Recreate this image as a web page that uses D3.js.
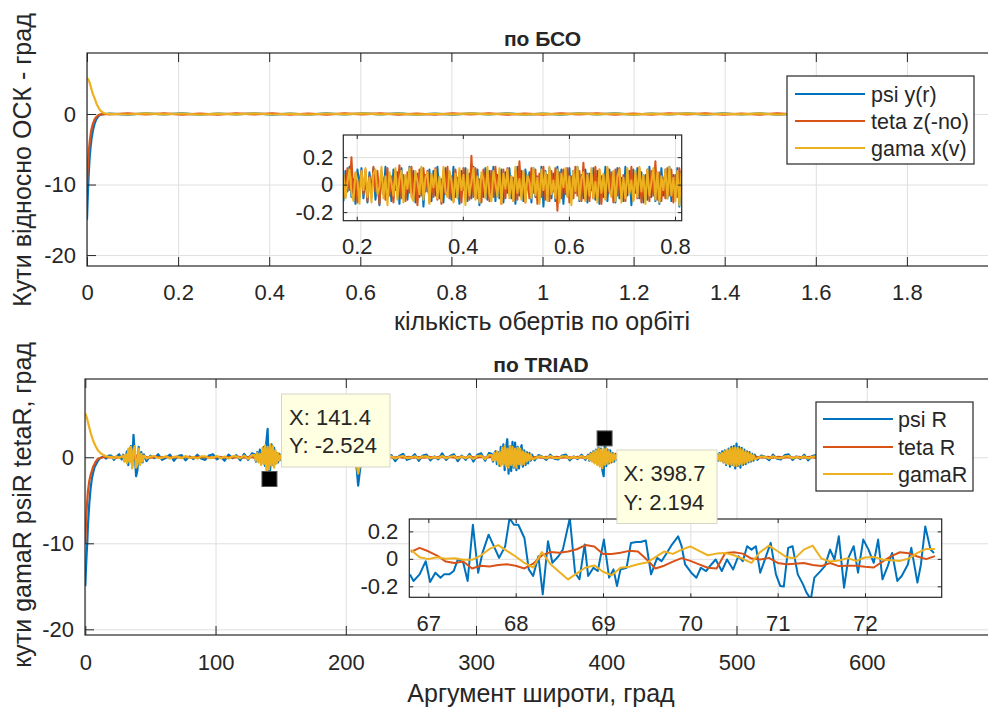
<!DOCTYPE html>
<html><head><meta charset="utf-8">
<script src="https://cdn.jsdelivr.net/npm/d3@7"></script>
<style>body{margin:0;background:#fff}svg{display:block}</style>
</head><body><script>
// ---------------- DATA ----------------
const SERIES_TOP = ["psi y(r)", "teta z(-no)", "gama x(v)"];
const SERIES_BOT = ["psi R", "teta R", "gamaR"];
const COLORS = ["#0072BD", "#D95319", "#EDB120"];

// top main: transient [orbits, deg]
const TOP_PSI_START = [[0,-15],[0.0015,-12],[0.003,-9.6],[0.0045,-7.6],[0.006,-6.1],[0.008,-4.6],[0.01,-3.5],[0.013,-2.3],[0.0165,-1.4],[0.02,-0.8],[0.024,-0.4],[0.028,-0.15],[0.033,-0.05],[0.04,0]];
const TOP_TETA_START = [[0,-10],[0.0015,-7.8],[0.003,-6.2],[0.0045,-4.9],[0.006,-3.9],[0.008,-2.9],[0.01,-2.1],[0.013,-1.4],[0.0165,-0.8],[0.02,-0.45],[0.024,-0.2],[0.028,-0.08],[0.035,0]];
const TOP_GAMA_START = [[0,5.1],[0.003,4.9],[0.006,4.4],[0.009,3.7],[0.012,3.0],[0.015,2.5],[0.018,2.0],[0.022,1.3],[0.026,0.8],[0.03,0.45],[0.035,0.2],[0.04,0.07],[0.047,0.02]];
const TOP_TAIL_RANGE = [0.05, 1.833];
const TOP_TAIL_PSI = [0.06,-0.08,0.1,-0.06,0.09,-0.1,0.07,-0.05,0.1,-0.09,0.06,-0.1,0.08,-0.07,0.1,-0.06,0.09,-0.1,0.05,-0.08,0.1,-0.07,0.09,-0.1,0.06,-0.08,0.1,-0.05,0.09,-0.1,0.07,-0.06,0.1,-0.09,0.08,-0.07,0.1,-0.1,0.06,-0.08,0.09,-0.07,0.1,-0.06,0.08,-0.05];
const TOP_TAIL_TETA = [-0.05,0.09,-0.07,0.1,-0.08,0.06,-0.1,0.09,-0.06,0.08,-0.1,0.07,-0.09,0.1,-0.05,0.08,-0.1,0.06,-0.09,0.1,-0.07,0.08,-0.1,0.05,-0.09,0.1,-0.06,0.08,-0.1,0.07,-0.09,0.1,-0.05,0.08,-0.1,0.06,-0.09,0.1,-0.07,0.08,-0.1,0.05,-0.09,0.1,-0.06,0.04];
const TOP_TAIL_GAMA = [0.04,-0.07,0.08,-0.05,0.07,-0.08,0.06,-0.04,0.08,-0.07,0.05,-0.08,0.07,-0.06,0.08,-0.05,0.07,-0.08,0.04,-0.06,0.08,-0.05,0.07,-0.08,0.05,-0.07,0.08,-0.04,0.07,-0.08,0.06,-0.05,0.08,-0.07,0.06,-0.05,0.08,-0.08,0.05,-0.06,0.07,-0.05,0.08,-0.04,0.06,-0.03];

// top inset noise (orbits 0.175 .. 0.812)
const INSET1_RANGE = [0.175, 0.812];
const INSET1_PSI = [-0.12,0.1,-0.05,0.13,-0.09,0.04,-0.14,0.11,-0.02,0.12,-0.1,0.07,-0.13,0.09,-0.06,0.12,-0.11,0.03,-0.15,0.1,
-0.07,0.13,-0.1,0.05,-0.12,0.11,-0.04,0.09,-0.14,0.12,-0.08,0.06,-0.11,0.13,-0.03,0.1,-0.13,0.08,-0.09,0.12,
-0.16,0.07,-0.05,0.11,-0.12,0.1,-0.08,0.13,-0.1,0.04,-0.13,0.12,-0.06,0.09,-0.11,0.13,-0.09,0.05,-0.14,0.1,
-0.04,0.12,-0.12,0.08,-0.1,0.13,-0.07,0.11,-0.15,0.06,-0.09,0.12,-0.11,0.1,-0.05,0.13,-0.12,0.07,-0.1,0.11,
-0.13,0.09,-0.06,0.12,-0.1,0.05,-0.14,0.13,-0.08,0.1,-0.12,0.11,-0.03,0.09,-0.13,0.12,-0.09,0.06,-0.11,0.13,
-0.16,0.1,-0.07,0.12,-0.1,0.08,-0.12,0.13,-0.05,0.11,-0.14,0.09,-0.08,0.12,-0.11,0.1,-0.06,0.13,-0.12,0.07,
-0.1,0.11,-0.13,0.08,-0.04,0.12,-0.11,0.1,-0.14,0.06,-0.09,0.13,-0.12,0.11,-0.07,0.09,-0.13,0.12,-0.1,0.05,
-0.12,0.13,-0.08,0.1,-0.15,0.11,-0.06,0.12,-0.1,0.09,-0.13,0.07,-0.11,0.13,-0.09,0.1,-0.12,0.06,-0.14,0.12,
-0.08,0.11,-0.1,0.13,-0.12,0.07,-0.09,0.12,-0.16,0.1];
const INSET1_TETA = [0.05,-0.09,0.12,-0.04,0.2,-0.1,0.08,-0.13,0.02,0.1,-0.07,0.11,-0.12,0.06,-0.09,0.13,-0.05,0.1,-0.14,0.08,
0.03,-0.11,0.12,-0.08,0.06,-0.13,0.1,-0.03,0.14,-0.1,0.07,-0.12,0.09,-0.06,0.13,-0.1,0.04,-0.15,0.11,-0.08,
0.12,-0.05,0.1,-0.13,0.07,-0.09,0.12,-0.11,0.03,-0.14,0.1,-0.07,0.13,-0.1,0.06,-0.12,0.11,-0.04,0.09,-0.13,
0.12,-0.08,0.05,-0.11,0.21,-0.09,0.12,-0.1,0.04,-0.13,0.11,-0.06,0.08,-0.12,0.1,-0.09,0.13,-0.05,0.07,-0.14,
0.11,-0.1,0.12,-0.07,0.06,-0.12,0.1,-0.11,0.17,-0.08,0.09,-0.13,0.05,-0.1,0.12,-0.06,0.11,-0.14,0.08,-0.09,
0.13,-0.11,0.07,-0.12,0.1,-0.05,0.12,-0.19,0.09,-0.1,0.11,-0.07,0.12,-0.13,0.06,-0.1,0.13,-0.08,0.1,-0.12,
0.16,-0.11,0.08,-0.12,0.05,-0.1,0.13,-0.09,0.11,-0.14,0.07,-0.1,0.12,-0.06,0.09,-0.13,0.11,-0.08,0.12,-0.1,
0.07,-0.12,0.1,-0.05,0.13,-0.11,0.08,-0.1,0.12,-0.13,0.06,-0.09,0.11,-0.12,0.1,-0.08,0.17,-0.11,0.09,-0.12,
0.05,-0.1,0.12,-0.08,0.11,-0.13,0.07,-0.09,0.12,-0.06];
const INSET1_GAMA = [0.08,-0.1,0.02,0.11,-0.06,-0.12,0.09,0.03,-0.14,0.1,-0.04,0.12,-0.09,0.05,-0.13,0.08,0.11,-0.07,-0.02,0.13,
-0.1,0.06,-0.15,0.09,0.01,-0.08,0.12,-0.11,0.04,0.1,-0.13,0.07,-0.03,0.12,-0.09,-0.12,0.1,0.02,-0.07,0.13,
-0.11,0.05,0.09,-0.14,0.08,-0.02,0.11,-0.1,0.06,-0.12,0.13,-0.05,-0.09,0.1,0.03,-0.13,0.08,-0.1,0.12,-0.04,
0.07,-0.15,0.11,-0.08,0.02,0.12,-0.11,0.06,-0.13,0.09,0.04,-0.1,0.13,-0.07,-0.12,0.1,0.01,-0.09,0.12,-0.14,
0.08,-0.03,0.11,-0.1,0.06,-0.12,0.13,-0.06,0.04,-0.11,0.1,-0.13,0.07,0.02,-0.1,0.12,-0.08,0.05,-0.14,0.11,
-0.04,0.09,-0.12,0.13,-0.07,0.03,-0.1,0.11,-0.13,0.08,-0.02,0.12,-0.09,0.06,-0.15,0.1,-0.05,0.13,-0.11,0.04,
0.09,-0.12,0.07,-0.08,0.12,-0.1,0.02,-0.13,0.11,-0.06,0.08,-0.11,0.13,-0.04,-0.09,0.1,-0.12,0.06,0.11,-0.13,
0.05,-0.1,0.12,-0.07,0.03,-0.12,0.1,-0.09,0.13,-0.05,0.07,-0.14,0.11,-0.08,0.02,0.12,-0.11,0.09,-0.13,0.06,
-0.04,0.11,-0.1,0.13,-0.08,0.05,-0.12,0.1,-0.15,0.09];

// bottom main: transient [deg, deg]
const BOT_PSI_START = [[0,-15],[0.5,-13],[1,-11.3],[1.5,-10],[2,-8],[3,-5.5],[4,-3.7],[5,-2.5],[6,-1.8],[7,-1.2],[8,-0.9],[9,-0.6],[10,-0.35],[11,-0.15],[12,-0.05],[14,0.1],[16,-0.15],[18,0.2]];
const BOT_TETA_START = [[0,-10],[0.5,-8],[1,-6.3],[1.5,-5],[2,-4],[3,-2.8],[4,-2.1],[5,-1.6],[6,-1.1],[7,-0.8],[8,-0.5],[9,-0.3],[10,-0.15],[12,-0.05],[15,0.03],[18,-0.02]];
const BOT_GAMA_START = [[0,5.1],[1,4.7],[2,4.1],[3,3.5],[4,2.9],[5,2.4],[6,1.95],[7,1.6],[8,1.25],[9,1],[10,0.75],[12,0.45],[14,0.25],[16,0.12],[19,0.03]];
// bottom main noise: sample segments (start deg, step deg)
const BOT_SEG_START = [20,29,47,130,152,204.5,217,312,345,386,412,485,516];
const BOT_SEG_STEP  = [2,1,3,1,3,1,3,1,3,1,3,1,3];
const BOT_TETA_SEG_START = [20,29.5,46,131.5,152,205.5,216,313.5,346,387.5,412,485.5,516];
const BOT_TETA_SEG_STEP  = [4,1.5,4,1.5,4,1.5,4,1.5,4,1.5,4,1.5,4];
const BOT_PSI_SEGS = [
 [0.2,-0.3,0.1,0.35,-0.25],
 [0.3,-0.45,0.2,0.7,-0.9,0.5,1.3,-1.1,2.6,0.4,-2.2,-1.5,1.2,-0.8,0.6,-0.6,0.35],
 [-0.45,0.2,-0.1,0.35,-0.3,-0.05,0.3,-0.4,0.15,0.25,-0.35,0.1,-0.2,0.3,-0.15,-0.3,0.2,0.35,-0.25,0.05,-0.4,0.3,-0.1,0.25,-0.35,0.4,-0.3,0.45],
 [0.35,-0.5,0.6,-0.4,0.9,-0.7,0.5,1.2,-1.0,1.8,3.3,-2.5,-1.3,1.5,-0.9,1.1,-0.7,0.5,-0.6,0.4,-0.3],
 [-0.3,0.25,0.05,-0.35,0.3,-0.1,-0.25,0.2,0.35,-0.3,0.1,-0.2,0.3,-0.35,0.15,0.25,-0.3,0.2],
 [0.2,-0.3,0.4,-0.6,-1.5,-3.3,-2.0,-0.8,0.3,-0.4,0.25],
 [-0.35,0.3,0.05,-0.4,0.35,-0.2,0.25,-0.45,0.15,0.4,-0.3,-0.1,0.35,-0.4,0.2,0.3,-0.35,0.1,-0.25,0.45,-0.3,0.15,0.35,-0.45,0.2,-0.3,0.4,-0.5,0.3,0.45,-0.4,0.5],
 [0.4,-0.5,0.3,0.7,-0.8,0.6,-1.0,1.2,-0.7,1.5,-1.5,1.0,2.1,-1.9,1.3,-1.6,1.8,-1.2,1.7,-1.5,1.2,-1.3,0.9,1.4,-1.1,0.8,-0.9,0.6,-0.7,0.5,-0.4,0.3],
 [-0.35,0.25,0.05,-0.3,0.3,-0.15,-0.25,0.2,0.3,-0.35,0.1,-0.2,0.3,-0.3],
 [0.3,-0.4,0.5,-0.3,0.7,-0.6,0.9,-0.8,1.1,-0.9,1.0,-1.5,-2.2,2.2,-1.0,0.9,-0.7,0.8,-0.6,0.5,-0.5,0.4,-0.3,0.3,-0.25],
 [-0.3,0.25,0.05,-0.35,0.3,-0.1,-0.25,0.2,0.3,-0.3,0.1,-0.2,0.35,-0.3,0.15,0.25,-0.35,0.1,-0.2,0.3,-0.3,0.35,-0.4,0.3,-0.45],
 [0.35,-0.4,0.5,-0.3,0.7,-0.6,0.8,-0.9,0.6,1.0,-1.1,1.2,-0.9,1.3,-1.3,1.6,-1.0,1.2,-1.2,1.1,-0.9,0.9,-0.8,0.7,-0.6,0.6,-0.5,0.4,-0.4,0.3],
 [-0.3,0.2,0.05,-0.35,0.3,-0.15,-0.25,0.25,0.35,-0.3,0.1,-0.2,0.3,-0.35,0.15,0.25,-0.3,0.05,-0.25,0.3,-0.3,0.2,0.35,-0.35,0.1,-0.2,0.3,-0.3,0.15,0.25,-0.35,0.05,-0.2,0.3,-0.25,0.2,0.3,-0.3,0.1,-0.25,0.3,-0.3,0.2,0.25,-0.35,0.1,-0.2,0.25,-0.1]
];
const BOT_TETA_SEGS = [
 [0.02,-0.03,0.04],
 [0.05,-0.1,0.15,-0.2,0.25,-0.3,0.3,-0.25,0.15,-0.1,0.05],
 [0.03,-0.05,0.04,-0.02,0.05,-0.04,0.02,-0.05,0.04,-0.03,0.05,-0.02,0.03,-0.05,0.04,-0.03,0.02,-0.04,0.05,-0.03,0.04,-0.05],
 [0.05,-0.08,0.1,-0.12,0.15,-0.2,0.2,-0.2,0.18,-0.15,0.1,-0.08,0.05],
 [0.04,-0.03,0.05,-0.04,0.02,-0.05,0.03,-0.02,0.04,-0.05,0.03,-0.04,0.02,-0.03],
 [0.02,-0.05,-0.15,-0.3,-0.1,0.03],
 [0.03,-0.04,0.05,-0.02,0.04,-0.05,0.03,-0.03,0.05,-0.04,0.02,-0.05,0.04,-0.03,0.05,-0.02,0.03,-0.04,0.05,-0.03,0.04,-0.05,0.03,-0.04,0.05],
 [0.05,-0.06,0.08,-0.1,0.12,-0.12,0.15,-0.15,0.18,-0.16,0.16,-0.15,0.13,-0.12,0.1,-0.08,0.07,-0.06,0.05,-0.04],
 [0.03,-0.04,0.05,-0.03,0.04,-0.05,0.02,-0.04,0.05,-0.03,0.04],
 [0.04,-0.05,0.07,-0.08,0.1,-0.1,0.12,-0.15,0.12,-0.1,0.08,-0.07,0.05,-0.04,0.03],
 [0.03,-0.04,0.05,-0.03,0.04,-0.05,0.02,-0.04,0.05,-0.03,0.04,-0.05,0.03,-0.04,0.05,-0.03,0.04,-0.05,0.03],
 [0.04,-0.05,0.06,-0.07,0.08,-0.1,0.1,-0.12,0.12,-0.12,0.14,-0.12,0.1,-0.1,0.08,-0.07,0.06,-0.05,0.04],
 [0.03,-0.04,0.05,-0.03,0.04,-0.05,0.02,-0.04,0.05,-0.03,0.04,-0.05,0.03,-0.04,0.05,-0.02,0.03,-0.04,0.05,-0.03,0.04,-0.05,0.03,-0.04,0.05,-0.03,0.04,-0.05,0.02,-0.04,0.05,-0.03,0.04,-0.05,0.03,-0.04,0.02]
];
const BOT_GAMA_SEGS = [
 [0.06,-0.12,0.1,-0.05,0.12],
 [0.2,-0.5,0.35,-0.7,1.0,-0.6,1.2,-1.3,0.9,1.3,-1.2,-0.8,1.0,-0.9,0.4,-0.5,0.2],
 [-0.15,0.08,0.15,-0.1,-0.05,0.12,-0.15,0.05,0.1,-0.12,0.15,-0.08,0.02,-0.15,0.1,0.12,-0.1,-0.05,0.15,-0.12,0.08,-0.15,0.1,0.12,-0.1,0.2,-0.2,0.25],
 [0.25,-0.4,0.5,-0.6,0.4,-0.9,1.1,-0.8,1.4,-1.5,1.2,-1.4,1.5,-1.0,1.3,-1.2,0.8,-0.7,0.5,-0.4,0.2],
 [-0.1,0.12,-0.05,-0.12,0.1,0.08,-0.12,0.05,0.12,-0.1,0.02,-0.12,0.1,-0.08,0.12,-0.05,-0.1,0.08],
 [0.1,-0.2,0.3,-0.5,-1.0,-1.9,-1.2,-0.3,0.2,-0.2,0.1],
 [-0.12,0.1,0.05,-0.15,0.12,-0.05,0.1,-0.15,0.05,0.15,-0.1,-0.05,0.12,-0.15,0.08,0.1,-0.12,0.05,-0.1,0.15,-0.12,0.06,0.15,-0.15,0.1,-0.12,0.18,-0.2,0.15,0.2,-0.22,0.25],
 [0.25,-0.35,0.5,-0.4,0.7,-0.8,0.6,-1.0,1.1,-0.9,1.3,-1.1,1.0,-1.2,1.3,-0.9,1.2,-1.1,1.0,-1.2,1.1,-0.8,1.0,-0.9,0.7,-0.8,0.6,-0.5,0.4,-0.4,0.3,-0.2],
 [-0.15,0.1,0.05,-0.12,0.15,-0.08,-0.1,0.1,0.12,-0.15,0.05,-0.1,0.15,-0.15],
 [0.2,-0.3,0.4,-0.5,0.6,-0.7,0.8,-0.9,1.0,-1.1,0.9,-1.25,1.0,-0.9,1.0,-0.8,0.7,-0.6,0.5,-0.5,0.4,-0.3,0.3,-0.2,0.15],
 [-0.12,0.1,0.05,-0.12,0.12,-0.05,-0.1,0.08,0.12,-0.12,0.05,-0.08,0.15,-0.12,0.06,0.1,-0.15,0.05,-0.1,0.15,-0.12,0.18,-0.2,0.2,-0.25],
 [0.25,-0.3,0.4,-0.45,0.5,-0.6,0.7,-0.75,0.9,-0.8,1.0,-0.9,1.1,-1.0,1.15,-1.0,1.1,-0.9,1.0,-0.85,0.9,-0.7,0.7,-0.6,0.55,-0.5,0.4,-0.35,0.3,-0.2],
 [-0.12,0.08,0.05,-0.14,0.12,-0.06,-0.1,0.1,0.14,-0.12,0.04,-0.08,0.12,-0.14,0.06,0.1,-0.12,0.02,-0.1,0.12,-0.12,0.08,0.14,-0.14,0.04,-0.08,0.12,-0.12,0.06,0.1,-0.14,0.02,-0.08,0.12,-0.1,0.08,0.12,-0.12,0.04,-0.1,0.12,-0.12,0.08,0.1,-0.14,0.04,-0.08,0.1,-0.04]
];

// bottom inset
const INSET2_PSI_X = [66.79,66.83,66.90,66.97,67.02,67.08,67.14,67.18,67.24,67.29,67.34,67.40,67.45,67.51,67.57,67.62,67.69,67.75,67.81,67.88,67.93,67.98,68.03,68.10,68.15,68.20,68.26,68.31,68.37,68.42,68.49,68.54,68.62,68.68,68.73,68.79,68.83,68.89,68.94,69.01,69.07,69.12,69.16,69.20,69.27,69.32,69.38,69.43,69.49,69.55,69.62,69.67,69.73,69.79,69.86,69.90,69.94,70.01,70.07,70.12,70.18,70.24,70.29,70.36,70.42,70.49,70.55,70.60,70.65,70.70,70.75,70.80,70.86,70.92,70.98,71.03,71.07,71.12,71.17,71.23,71.29,71.33,71.38,71.42,71.49,71.54,71.60,71.65,71.70,71.76,71.81,71.87,71.92,71.98,72.04,72.10,72.15,72.20,72.26,72.31,72.37,72.42,72.49,72.53,72.60,72.64,72.69,72.75,72.79];
const INSET2_PSI = [-0.113,-0.161,-0.113,-0.017,-0.169,-0.101,-0.137,-0.113,-0.113,-0.089,0,-0.029,-0.161,0.248,-0.101,0.043,0.176,0.092,0.007,0.092,0.296,0.248,0.248,0.152,-0.077,-0.125,0.019,-0.258,0.128,-0.029,0.019,0.067,0.296,-0.101,-0.149,0.104,-0.125,-0.065,-0.089,0.14,-0.137,-0.077,-0.198,-0.077,-0.065,0.116,0.123,0.123,0.133,-0.113,0.007,-0.017,0.043,0.104,0.164,0.092,-0.041,-0.101,-0.137,-0.065,-0.089,-0.041,-0.005,-0.089,-0.005,-0.077,0.019,-0.017,0.092,0.067,0.092,-0.101,0.007,0.116,-0.113,-0.198,-0.202,0.08,0.092,-0.113,-0.186,-0.246,-0.294,-0.137,-0.089,-0.053,0.067,-0.005,0.164,-0.21,0.007,0.092,-0.101,0.14,0.067,-0.029,0.14,-0.149,-0.053,0.043,-0.161,-0.125,-0.041,0.08,-0.173,-0.041,0.236,0.067,0.043];
const INSET2_GRID = [66.8, 72.8];
const INSET2_TETA = [0.05,0.08,0.055,0.024,-0.02,-0.03,-0.02,-0.07,-0.05,-0.055,-0.045,-0.04,-0.05,-0.07,-0.035,0.025,0.05,0.045,0.053,0.07,0.1,0.09,0.035,0.035,0.045,0.058,0.053,-0.005,-0.07,-0.05,-0.02,0.005,-0.015,-0.04,-0.065,-0.07,0.043,0.048,0.038,0.002,-0.005,0.007,-0.03,-0.04,-0.035,-0.03,-0.045,-0.053,-0.03,-0.053,-0.05,-0.05,-0.058,-0.063,-0.02,0.02,0.048,0.04,0.017,-0.002,0.02];
const INSET2_GAMA = [0.067,0.012,-0.002,0.012,0,0.005,-0.007,-0.007,0.024,0.072,0.1,0.058,0.017,-0.03,-0.063,0.05,-0.04,-0.096,-0.15,-0.106,-0.063,-0.048,-0.094,-0.12,-0.065,-0.058,-0.04,-0.027,0.012,0.053,0.036,0.067,0.09,0.058,0.026,0.038,0.043,0.026,0,-0.03,0.05,0.096,0.055,0.012,0.005,0.067,0.096,0.002,-0.02,-0.012,0.005,-0.015,0.01,0.014,-0.005,-0.01,-0.015,0.002,0.043,0.072,0.072];

// tick labels
const TOP_XTICKS = [0,0.2,0.4,0.6,0.8,1,1.2,1.4,1.6,1.8];
const MAIN_YTICKS = [-20,-10,0];
const BOT_XTICKS = [0,100,200,300,400,500,600];
const INSET1_XTICKS = [0.2,0.4,0.6,0.8];
const INSET_YTICKS = [-0.2,0,0.2];
const INSET2_XTICKS = [67,68,69,70,71,72];
const DATATIPS = [{x:141.4, y:-2.524}, {x:398.7, y:2.194}];

// ---------------- HELPERS ----------------
const FONT = '"Liberation Sans", Arial, Helvetica, sans-serif';
const INK = '#262626', GRID = '#dfdfdf';
const svg = d3.select('body').append('svg').attr('width', 988).attr('height', 709)
  .style('font-family', FONT);
svg.append('rect').attr('width', 988).attr('height', 709).attr('fill', '#fff');

function spread(vals, a, b) { return vals.map((v, i) => [a + i * (b - a) / (vals.length - 1), v]); }
function zip(xs, ys) { const n = Math.min(xs.length, ys.length); return d3.range(n).map(i => [xs[i], ys[i]]); }
function segs(start, segVals, starts, steps) {
  const pts = start.slice();
  segVals.forEach((vals, i) => vals.forEach((v, j) => pts.push([starts[i] + j * steps[i], v])));
  return pts;
}
let clipN = 0;
function fmt(d) { return String(d); }

function axes(o) {
  const x = d3.scaleLinear().domain(o.xd).range([o.l, o.r]);
  const y = d3.scaleLinear().domain(o.yd).range([o.b, o.t]);
  const W = o.r - o.l, H = o.b - o.t;
  const g = svg.append('g');
  if (o.bg) g.append('rect').attr('x', o.l).attr('y', o.t).attr('width', W).attr('height', H).attr('fill', '#fff');
  const gx = g.append('g').attr('transform', `translate(0,${o.b})`)
    .call(d3.axisBottom(x).tickValues(o.xt).tickSize(-H).tickFormat(''));
  const gy = g.append('g').attr('transform', `translate(${o.l},0)`)
    .call(d3.axisLeft(y).tickValues(o.yt).tickSize(-W).tickFormat(''));
  [gx, gy].forEach(a => { a.select('.domain').remove(); a.selectAll('line').attr('stroke', GRID).attr('stroke-width', 1); });
  const id = 'clip' + (clipN++);
  svg.append('clipPath').attr('id', id).append('rect').attr('x', o.l).attr('y', o.t).attr('width', W).attr('height', H);
  const lg = g.append('g').attr('clip-path', `url(#${id})`);
  const line = d3.line().x(d => x(d[0])).y(d => y(d[1]));
  o.series.forEach((s, i) => lg.append('path').datum(s).attr('d', line).attr('fill', 'none')
    .attr('stroke', COLORS[i]).attr('stroke-width', o.lw).attr('stroke-linejoin', 'round'));
  const style = a => { a.select('.domain').remove(); a.attr('font-size', o.fs).attr('font-family', FONT).attr('color', INK);
    a.selectAll('line').attr('stroke-width', 1); };
  g.append('g').attr('transform', `translate(0,${o.b})`)
    .call(d3.axisBottom(x).tickValues(o.xt).tickSize(-o.tl).tickPadding(o.xpad).tickFormat(fmt)).call(style);
  g.append('g').attr('transform', `translate(0,${o.t})`)
    .call(d3.axisTop(x).tickValues(o.xt).tickSize(-o.tl).tickFormat('')).call(style);
  g.append('g').attr('transform', `translate(${o.l},0)`)
    .call(d3.axisLeft(y).tickValues(o.yt).tickSize(-o.tl).tickPadding(o.ypad).tickFormat(fmt)).call(style);
  g.append('g').attr('transform', `translate(${o.r},0)`)
    .call(d3.axisRight(y).tickValues(o.yt).tickSize(-o.tl).tickFormat('')).call(style);
  g.append('rect').attr('x', o.l).attr('y', o.t).attr('width', W).attr('height', H)
    .attr('fill', 'none').attr('stroke', INK).attr('stroke-width', 1.2);
  return {x, y, g};
}

function legend(o, names) {
  const g = svg.append('g');
  g.append('rect').attr('x', o.x0).attr('y', o.y0).attr('width', o.x1 - o.x0).attr('height', o.y1 - o.y0)
    .attr('fill', '#fff').attr('stroke', INK).attr('stroke-width', 1.2);
  names.forEach((n, i) => {
    const yy = o.ys[i];
    g.append('line').attr('x1', o.lx0).attr('x2', o.lx1).attr('y1', yy).attr('y2', yy)
      .attr('stroke', COLORS[i]).attr('stroke-width', 2.2);
    g.append('text').attr('x', o.tx).attr('y', yy).attr('dy', '0.35em').attr('font-size', o.fs)
      .attr('fill', INK).text(n);
  });
}

function text(x, y, s, fs, opts = {}) {
  const t = svg.append('text').attr('x', x).attr('y', y).attr('font-size', fs).attr('fill', opts.fill || INK)
    .attr('text-anchor', opts.anchor || 'middle').text(s);
  if (opts.bold) t.attr('font-weight', 'bold');
  if (opts.rot) t.attr('transform', `rotate(-90,${x},${y})`);
  return t;
}

// ---------------- TOP CHART ----------------
const topSeries = [
  TOP_PSI_START.concat(spread(TOP_TAIL_PSI, TOP_TAIL_RANGE[0], TOP_TAIL_RANGE[1])),
  TOP_TETA_START.concat(spread(TOP_TAIL_TETA, TOP_TAIL_RANGE[0], TOP_TAIL_RANGE[1])),
  TOP_GAMA_START.concat(spread(TOP_TAIL_GAMA, TOP_TAIL_RANGE[0], TOP_TAIL_RANGE[1]))
];
axes({l: 87, r: 998, t: 53, b: 266, xd: [0, 2], yd: [-21.55, 8.65], xt: TOP_XTICKS, yt: MAIN_YTICKS,
  series: topSeries, lw: 2.2, fs: 22, tl: 9, xpad: 18, ypad: 11});
legend({x0: 787, x1: 974, y0: 76, y1: 164, lx0: 795, lx1: 865, tx: 871, ys: [94, 121, 148], fs: 21.5}, SERIES_TOP);
axes({l: 343.3, r: 681.7, t: 135, b: 220.7, xd: [0.1747, 0.8126], yd: [-0.2625, 0.361], xt: INSET1_XTICKS, yt: INSET_YTICKS,
  series: [spread(INSET1_PSI, INSET1_RANGE[0], INSET1_RANGE[1]), spread(INSET1_TETA, INSET1_RANGE[0], INSET1_RANGE[1]), spread(INSET1_GAMA, INSET1_RANGE[0], INSET1_RANGE[1])],
  lw: 2, fs: 22, tl: 4, xpad: 18, ypad: 10, bg: true});
text(542.5, 45.5, 'по БСО', 21, {bold: true});
text(542, 330, 'кількість обертів по орбіті', 25);
text(31, 160, 'Кути відносно ОСК - град', 25, {rot: true});

// ---------------- BOTTOM CHART ----------------
const botSeries = [
  segs(BOT_PSI_START, BOT_PSI_SEGS, BOT_SEG_START, BOT_SEG_STEP),
  segs(BOT_TETA_START, BOT_TETA_SEGS, BOT_TETA_SEG_START, BOT_TETA_SEG_STEP),
  segs(BOT_GAMA_START, BOT_GAMA_SEGS, BOT_SEG_START, BOT_SEG_STEP)
];
const bot = axes({l: 85, r: 997, t: 379, b: 635, xd: [-0.23, 700], yd: [-20.66, 9.1], xt: BOT_XTICKS, yt: MAIN_YTICKS,
  series: botSeries, lw: 2.2, fs: 22, tl: 9, xpad: 19, ypad: 11});
legend({x0: 816, x1: 973, y0: 402, y1: 491, lx0: 823, lx1: 893, tx: 898, ys: [419, 447, 474], fs: 21.5}, SERIES_BOT);
axes({l: 409.3, r: 941.7, t: 519, b: 597.3, xd: [66.782, 72.878], yd: [-0.28, 0.29], xt: INSET2_XTICKS, yt: INSET_YTICKS,
  series: [zip(INSET2_PSI_X, INSET2_PSI), spread(INSET2_TETA, INSET2_GRID[0], INSET2_GRID[1]), spread(INSET2_GAMA, INSET2_GRID[0], INSET2_GRID[1])],
  lw: 2, fs: 22, tl: 4, xpad: 18, ypad: 11, bg: true});
text(541, 371.5, 'по TRIAD', 21, {bold: true});
text(541, 702, 'Аргумент широти, град', 25);
text(31, 505, 'кути gamaR psiR tetaR, град', 25, {rot: true});

// data tips
const TIP_BOX = [{x0: 281.5, y0: 394, x1: 390, y1: 467, tx: 289, ty: [425, 453]},
                 {x0: 617, y0: 450, x1: 717, y1: 523.5, tx: 623.5, ty: [481, 510]}];
DATATIPS.forEach((d, i) => {
  const px = bot.x(d.x), py = bot.y(d.y);
  svg.append('rect').attr('x', px - 7.5).attr('y', py - 7.5).attr('width', 15).attr('height', 15)
    .attr('fill', '#000').attr('stroke', '#555').attr('stroke-width', 1);
  const b = TIP_BOX[i];
  svg.append('rect').attr('x', b.x0).attr('y', b.y0).attr('width', b.x1 - b.x0).attr('height', b.y1 - b.y0)
    .attr('fill', '#ffffe1').attr('stroke', '#d6d6c8').attr('stroke-width', 1);
  text(b.tx, b.ty[0], 'X: ' + d.x, 22, {anchor: 'start'});
  text(b.tx, b.ty[1], 'Y: ' + d.y, 22, {anchor: 'start'});
});
</script></body></html>
